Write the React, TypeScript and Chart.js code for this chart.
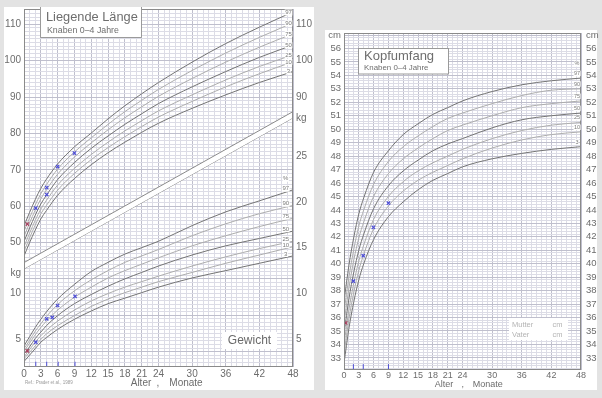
import React, { useEffect, useRef } from 'react';
import { Chart, registerables } from 'chart.js';

Chart.register(...registerables);

const FONT = "'Liberation Sans', Arial, Helvetica, sans-serif";

// ---------- shared ----------
const MONTHS = [0, 1, 2, 3, 4, 6, 9, 12, 15, 18, 21, 24, 30, 36, 42, 48];
const PERCENTILES = ['3', '10', '25', '50', '75', '90', '97'];
const DARK_PERCENTILES = ['3', '50', '97'];
const X_LABELS = [0, 3, 6, 9, 12, 15, 18, 21, 24, 30, 36, 42, 48];

// ---------- Liegende Länge (cm) ----------
const LEN_P3 = [46.3, 50.0, 53.4, 56.5, 58.8, 63.0, 67.6, 71.4, 74.7, 77.6, 80.3, 82.8, 86.9, 90.6, 94.0, 97.0];
const LEN_P10 = [47.6, 51.3, 54.8, 57.9, 60.2, 64.4, 69.0, 72.8, 76.1, 79.1, 81.9, 84.5, 88.8, 92.8, 96.4, 99.7];
const LEN_P25 = [48.9, 52.6, 56.1, 59.2, 61.6, 65.8, 70.4, 74.2, 77.6, 80.7, 83.5, 86.2, 90.6, 94.7, 98.4, 101.6];
const LEN_P50 = [50.3, 54.0, 57.5, 60.6, 63.0, 67.3, 72.0, 75.9, 79.3, 82.5, 85.4, 88.2, 92.8, 97.0, 100.9, 104.3];
const LEN_P75 = [51.7, 55.4, 58.9, 62.0, 64.5, 68.8, 73.5, 77.4, 81.0, 84.3, 87.3, 90.2, 95.1, 99.6, 103.7, 107.4];
const LEN_P90 = [53.1, 56.8, 60.3, 63.4, 65.9, 70.2, 74.9, 78.8, 82.5, 86.0, 89.1, 92.1, 97.3, 102.1, 106.4, 110.4];
const LEN_P97 = [54.6, 58.3, 61.8, 64.9, 67.4, 71.6, 76.3, 80.1, 84.0, 87.6, 90.9, 94.0, 99.6, 104.7, 109.2, 113.4];
const LEN_MEAS_M = [0.6, 2.1, 4.05, 4.05, 6.0, 9.0];
const LEN_MEAS_V = [55.1, 59.5, 65.1, 63.2, 70.9, 74.6];
const LEN_TICKS_LEFT = [50, 60, 70, 80, 90, 100, 110];
const LEN_TICKS_RIGHT = [90, 100, 110];
const LEN_MIN = 15.8;
const LEN_MAX = 114.2;

// ---------- Gewicht (kg) ----------
const WT_P3 = [2.6, 3.3, 4.0, 4.7, 5.2, 6.1, 7.2, 8.1, 8.9, 9.5, 10.1, 10.7, 11.7, 12.5, 13.3, 14.1];
const WT_P10 = [2.9, 3.6, 4.3, 5.0, 5.6, 6.5, 7.6, 8.6, 9.4, 10.1, 10.7, 11.3, 12.3, 13.3, 14.2, 15.1];
const WT_P25 = [3.1, 3.9, 4.7, 5.4, 6.0, 7.0, 8.2, 9.2, 10.0, 10.7, 11.3, 11.9, 13.0, 14.0, 14.9, 15.7];
const WT_P50 = [3.4, 4.2, 5.1, 5.8, 6.5, 7.6, 8.9, 9.9, 10.8, 11.6, 12.3, 13.0, 14.2, 15.2, 16.0, 16.8];
const WT_P75 = [3.7, 4.6, 5.5, 6.3, 7.0, 8.2, 9.6, 10.7, 11.7, 12.5, 13.2, 13.9, 15.2, 16.3, 17.3, 18.2];
const WT_P90 = [4.0, 4.9, 5.9, 6.7, 7.5, 8.8, 10.3, 11.5, 12.5, 13.4, 14.1, 14.8, 16.3, 17.6, 18.7, 19.6];
const WT_P97 = [4.3, 5.3, 6.3, 7.2, 8.0, 9.4, 11.0, 12.4, 13.4, 14.3, 15.0, 15.7, 17.4, 18.9, 20.1, 21.3];
const WT_MEAS_M = [0.6, 2.1, 4.05, 5.05, 6.0, 9.1];
const WT_MEAS_V = [3.75, 4.7, 7.25, 7.4, 8.7, 9.7];
const WT_TICKS_LEFT = [5, 10];
const WT_TICKS_RIGHT = [5, 10, 15, 20, 25];
const WT_KG_LEFT = 12.25;
const WT_KG_RIGHT = 29.1;
const WT_MIN = 2;
const WT_MAX = 41;
const LEFT_VISIT_M = [2.1, 4.05, 6.1, 9.1];

// diagonal separator band (length units at months 0 and 48)
const BAND_X = [0, 48];
const BAND_UPPER = [44.5, 86.0];
const BAND_LOWER = [42.8, 84.3];

// ---------- Kopfumfang (cm) ----------
const HC_P3 = [32.6, 35.2, 37.2, 38.8, 40.0, 41.8, 43.5, 44.6, 45.5, 46.2, 46.7, 47.2, 47.8, 48.2, 48.5, 48.7];
const HC_P10 = [33.3, 35.9, 37.9, 39.5, 40.7, 42.6, 44.3, 45.4, 46.2, 46.8, 47.3, 47.8, 48.6, 49.2, 49.6, 49.8];
const HC_P25 = [34.0, 36.6, 38.6, 40.2, 41.4, 43.3, 45.0, 46.1, 46.9, 47.5, 48.0, 48.5, 49.3, 49.9, 50.3, 50.5];
const HC_P50 = [34.8, 37.4, 39.4, 41.0, 42.2, 44.1, 45.8, 46.9, 47.7, 48.4, 48.9, 49.3, 50.1, 50.7, 51.0, 51.2];
const HC_P75 = [35.6, 38.2, 40.3, 41.9, 43.1, 45.0, 46.7, 47.8, 48.6, 49.3, 49.9, 50.3, 51.0, 51.6, 51.9, 52.1];
const HC_P90 = [36.4, 39.0, 41.1, 42.8, 44.0, 45.9, 47.6, 48.7, 49.5, 50.2, 50.8, 51.2, 51.9, 52.5, 52.9, 53.0];
const HC_P97 = [37.2, 39.9, 42.0, 43.7, 44.9, 46.8, 48.4, 49.6, 50.4, 51.1, 51.6, 52.1, 52.8, 53.3, 53.6, 53.8];
const HC_MEAS_M = [0.34, 1.9, 3.9, 5.95, 9.0];
const HC_MEAS_V = [35.6, 38.7, 40.6, 42.7, 44.5];
const HC_TICKS = [33, 34, 35, 36, 37, 38, 39, 40, 41, 42, 43, 44, 45, 46, 47, 48, 49, 50, 51, 52, 53, 54, 55, 56];
const HC_UNIT_AT = 57;
const HC_MIN = 32.1;
const HC_MAX = 57.15;
const RIGHT_VISIT_M = [1.9, 3.9, 9.0];

// ---------- styles ----------
const CURVE_DARK = '#747474';
const CURVE_LIGHT = '#adadad';
const GRID_MINOR = '#dcdce6';
const GRID_MAJOR = '#bfbfcd';
const TICK_COLOR = '#6c6c6c';
const MARK_BLUE = '#4d4dd6';
const MARK_RED = '#a8405e';
const CLEAR = 'rgba(0,0,0,0)';

function valueAt(arr: number[], m: number) {
  for (let i = 1; i < MONTHS.length; i++) {
    if (m <= MONTHS[i]) {
      const t = (m - MONTHS[i - 1]) / (MONTHS[i] - MONTHS[i - 1]);
      return arr[i - 1] + t * (arr[i] - arr[i - 1]);
    }
  }
  return arr[arr.length - 1];
}

function curveDataset(arr: number[], axis: string, i: number) {
  const dark = DARK_PERCENTILES.includes(PERCENTILES[i]);
  return {
    data: MONTHS.map((m, j) => ({ x: m, y: arr[j] })),
    yAxisID: axis,
    borderColor: dark ? CURVE_DARK : CURVE_LIGHT,
    borderWidth: 1,
    pointRadius: 0,
    cubicInterpolationMode: 'monotone',
    fill: false,
  };
}

function markerDataset(ms: number[], vs: number[], axis: string) {
  const colors = ms.map((_, i) => (i === 0 ? MARK_RED : MARK_BLUE));
  return {
    data: ms.map((m, i) => ({ x: m, y: vs[i] })),
    yAxisID: axis,
    showLine: false,
    pointStyle: 'crossRot',
    pointRadius: 2.4,
    pointBorderWidth: 1.2,
    pointBorderColor: colors,
    pointBackgroundColor: colors,
    borderColor: MARK_BLUE,
    fill: false,
  };
}

function visitDataset(ms: number[], axis: string, v: number) {
  return {
    data: ms.map((m) => ({ x: m, y: v })),
    yAxisID: axis,
    showLine: false,
    pointStyle: 'line',
    rotation: 90,
    pointRadius: 2.5,
    pointBorderWidth: 1,
    pointBorderColor: MARK_BLUE,
    borderColor: MARK_BLUE,
    fill: false,
  };
}

function pctLabel(ctx: CanvasRenderingContext2D, text: string, x: number, y: number, size: number) {
  ctx.font = `${size}px ${FONT}`;
  const w = ctx.measureText(text).width;
  ctx.fillStyle = '#ffffff';
  ctx.fillRect(x - w / 2 - 0.5, y - size / 2, w + 1, size);
  ctx.fillStyle = '#7a7a7a';
  ctx.textAlign = 'center';
  ctx.textBaseline = 'middle';
  ctx.fillText(text, x, y);
}

function frame(ctx: CanvasRenderingContext2D, a: any) {
  ctx.strokeStyle = '#8a8a8a';
  ctx.lineWidth = 1;
  ctx.strokeRect(Math.round(a.left) + 0.5, Math.round(a.top) + 0.5, Math.round(a.right - a.left) - 1, Math.round(a.bottom - a.top) - 1);
}

function monthGridColor(ctx: any) {
  const v = ctx.tick ? ctx.tick.value : 0;
  return X_LABELS.includes(v) ? GRID_MAJOR : GRID_MINOR;
}

function monthTicks(scale: any) {
  const t: any[] = [];
  for (let m = 0; m <= 48; m++) t.push({ value: m });
  scale.ticks = t;
}

// ---------- left chart ----------
const lenFromWt = (w: number) => LEN_MIN + ((w - WT_MIN) / (WT_MAX - WT_MIN)) * (LEN_MAX - LEN_MIN);

function leftConfig(): any {
  const lenSeries = [LEN_P3, LEN_P10, LEN_P25, LEN_P50, LEN_P75, LEN_P90, LEN_P97];
  const wtSeries = [WT_P3, WT_P10, WT_P25, WT_P50, WT_P75, WT_P90, WT_P97];
  const datasets: any[] = [
    markerDataset(LEN_MEAS_M, LEN_MEAS_V, 'y'),
    markerDataset(WT_MEAS_M, WT_MEAS_V, 'yW'),
    visitDataset(LEFT_VISIT_M, 'yW', 2.3),
    ...lenSeries.map((a, i) => curveDataset(a, 'y', i)),
    ...wtSeries.map((a, i) => curveDataset(a, 'yW', i)),
    {
      data: BAND_X.map((x, i) => ({ x, y: BAND_UPPER[i] })),
      yAxisID: 'y', borderColor: '#8a8a8a', borderWidth: 1, pointRadius: 0,
      fill: '+1', backgroundColor: '#ffffff',
    },
    {
      data: BAND_X.map((x, i) => ({ x, y: BAND_LOWER[i] })),
      yAxisID: 'y', borderColor: '#8a8a8a', borderWidth: 1, pointRadius: 0, fill: false,
    },
  ];

  const leftExtra = [...WT_TICKS_LEFT.map(lenFromWt), lenFromWt(WT_KG_LEFT)];
  const rightVals = [...LEN_TICKS_RIGHT, ...WT_TICKS_RIGHT.map(lenFromWt), lenFromWt(WT_KG_RIGHT)];

  const decor = {
    id: 'leftDecor',
    afterDatasetsDraw(chart: any) {
      const { ctx, chartArea: a, scales } = chart;
      ctx.save();
      frame(ctx, a);
      const xL = scales.x.getPixelForValue(47.2);
      lenSeries.forEach((arr, i) => {
        const y = scales.y.getPixelForValue(valueAt(arr, 47.2)) - 1.5;
        pctLabel(ctx, PERCENTILES[i], xL, y, 6);
      });
      const xW = scales.x.getPixelForValue(46.7);
      let topY = 0;
      wtSeries.forEach((arr, i) => {
        const y = scales.yW.getPixelForValue(valueAt(arr, 46.7)) - 3.5;
        pctLabel(ctx, PERCENTILES[i], xW, y, 6);
        topY = y;
      });
      pctLabel(ctx, '%', xW, topY - 10, 6);

      // title box
      ctx.fillStyle = '#ffffff';
      ctx.fillRect(41, 7, 100, 30);
      ctx.strokeStyle = '#9a9a9a';
      ctx.lineWidth = 1;
      ctx.beginPath();
      ctx.moveTo(40.5, 7); ctx.lineTo(40.5, 37.5); ctx.lineTo(141.5, 37.5); ctx.lineTo(141.5, 7);
      ctx.stroke();
      ctx.fillStyle = '#6e6e6e';
      ctx.textAlign = 'left';
      ctx.textBaseline = 'alphabetic';
      ctx.font = `12.8px ${FONT}`;
      ctx.fillText('Liegende Länge', 46, 20.5);
      ctx.font = `8.8px ${FONT}`;
      ctx.fillText('Knaben 0–4 Jahre', 47, 32.5);

      // Gewicht box
      ctx.fillStyle = '#ffffff';
      ctx.fillRect(222, 332, 55, 17);
      ctx.fillStyle = '#6a6a6a';
      ctx.textAlign = 'center';
      ctx.font = `12px ${FONT}`;
      ctx.fillText('Gewicht', 249.5, 344);
      ctx.restore();
    },
    afterDraw(chart: any) {
      const { ctx } = chart;
      ctx.save();
      ctx.fillStyle = TICK_COLOR;
      ctx.textBaseline = 'middle';
      ctx.textAlign = 'center';
      ctx.font = `10px ${FONT}`;
      ctx.fillText('Alter', 141, 383.5);
      ctx.fillText(',', 158, 383.5);
      ctx.fillText('Monate', 186, 383.5);
      ctx.textAlign = 'left';
      ctx.fillStyle = '#9a9a9a';
      ctx.font = `4.5px ${FONT}`;
      ctx.fillText('Ref.: Prader et al., 1989', 25, 383);
      ctx.restore();
    },
  };

  return {
    type: 'line',
    data: { datasets },
    plugins: [decor],
    options: {
      animation: false,
      responsive: false,
      maintainAspectRatio: false,
      layout: { padding: { top: 7, left: 0, right: 0, bottom: 0 } },
      plugins: { legend: { display: false }, tooltip: { enabled: false } },
      scales: {
        x: {
          type: 'linear', min: 0, max: 48, position: 'bottom',
          afterBuildTicks: monthTicks,
          afterFit: (s: any) => { s.height = 31; },
          ticks: {
            autoSkip: false, maxRotation: 0, padding: 1, color: TICK_COLOR,
            font: { family: FONT, size: 10 },
            callback: (v: number) => (X_LABELS.includes(v) ? String(v) : ''),
          },
          grid: { drawTicks: false, color: monthGridColor, lineWidth: 1 },
          border: { display: false },
        },
        y: {
          type: 'linear', position: 'left', min: LEN_MIN, max: LEN_MAX,
          afterBuildTicks: (s: any) => {
            const t: any[] = [];
            for (let v = Math.ceil(LEN_MIN); v <= Math.floor(LEN_MAX); v++) t.push({ value: v });
            leftExtra.forEach((v) => t.push({ value: v }));
            t.sort((p, q) => p.value - q.value);
            s.ticks = t;
          },
          afterFit: (s: any) => { s.width = 24; },
          ticks: {
            autoSkip: false, padding: 3, color: TICK_COLOR,
            font: { family: FONT, size: 10 },
            callback: (v: number) => {
              if (LEN_TICKS_LEFT.includes(v)) return String(v);
              const wi = WT_TICKS_LEFT.findIndex((w) => Math.abs(lenFromWt(w) - v) < 1e-9);
              if (wi >= 0) return String(WT_TICKS_LEFT[wi]);
              if (Math.abs(lenFromWt(WT_KG_LEFT) - v) < 1e-9) return 'kg';
              return '';
            },
          },
          grid: {
            drawTicks: false, lineWidth: 1,
            color: (ctx: any) => {
              const v = ctx.tick ? ctx.tick.value : 0;
              if (!Number.isInteger(v)) return CLEAR;
              return v % 10 === 0 ? GRID_MAJOR : GRID_MINOR;
            },
          },
          border: { display: false },
        },
        y2: {
          type: 'linear', position: 'right', min: LEN_MIN, max: LEN_MAX,
          afterBuildTicks: (s: any) => {
            s.ticks = rightVals.slice().sort((p, q) => p - q).map((v) => ({ value: v }));
          },
          afterFit: (s: any) => { s.width = 25; },
          ticks: {
            autoSkip: false, padding: 3, color: TICK_COLOR,
            font: { family: FONT, size: 10 },
            callback: (v: number) => {
              if (LEN_TICKS_RIGHT.includes(v)) return String(v);
              const wi = WT_TICKS_RIGHT.findIndex((w) => Math.abs(lenFromWt(w) - v) < 1e-9);
              if (wi >= 0) return String(WT_TICKS_RIGHT[wi]);
              if (Math.abs(lenFromWt(WT_KG_RIGHT) - v) < 1e-9) return 'kg';
              return '';
            },
          },
          grid: { display: false, drawTicks: false },
          border: { display: false },
        },
        yW: { type: 'linear', display: false, min: WT_MIN, max: WT_MAX },
      },
    },
  };
}

// ---------- right chart ----------
function rightConfig(): any {
  const hcSeries = [HC_P3, HC_P10, HC_P25, HC_P50, HC_P75, HC_P90, HC_P97];
  const datasets: any[] = [
    markerDataset(HC_MEAS_M, HC_MEAS_V, 'y'),
    visitDataset(RIGHT_VISIT_M, 'y', 32.35),
    ...hcSeries.map((a, i) => curveDataset(a, 'y', i)),
  ];

  const hcTicks = (s: any) => {
    const t: any[] = [];
    for (let k = Math.ceil(HC_MIN * 5); k <= Math.floor(HC_MAX * 5); k++) t.push({ value: k / 5 });
    s.ticks = t;
  };
  const hcLabel = (v: number) => {
    const r = Math.round(v);
    if (Math.abs(v - r) < 1e-9) {
      if (HC_TICKS.includes(r)) return String(r);
      if (r === HC_UNIT_AT) return 'cm';
    }
    return '';
  };

  const decor = {
    id: 'rightDecor',
    afterDatasetsDraw(chart: any) {
      const { ctx, chartArea: a, scales } = chart;
      ctx.save();
      frame(ctx, a);
      const x = scales.x.getPixelForValue(47.2);
      let topY = 0;
      hcSeries.forEach((arr, i) => {
        const y = scales.y.getPixelForValue(valueAt(arr, 47.2)) - 5;
        pctLabel(ctx, PERCENTILES[i], x, y, 5.5);
        topY = y;
      });
      pctLabel(ctx, '%', x, topY - 9.5, 5.5);

      // title box
      ctx.fillStyle = '#ffffff';
      ctx.fillRect(38.5, 48.5, 90, 25.5);
      ctx.strokeStyle = '#9a9a9a';
      ctx.lineWidth = 1;
      ctx.strokeRect(38.5, 48.5, 90, 25.5);
      ctx.fillStyle = '#6e6e6e';
      ctx.textAlign = 'left';
      ctx.textBaseline = 'alphabetic';
      ctx.font = `13px ${FONT}`;
      ctx.fillText('Kopfumfang', 44, 59.5);
      ctx.font = `7.9px ${FONT}`;
      ctx.fillText('Knaben 0–4 Jahre', 44, 70.3);

      // parents box
      ctx.fillStyle = '#ffffff';
      ctx.fillRect(189, 318, 59, 22);
      ctx.fillStyle = '#b4b4b4';
      ctx.font = `7.5px ${FONT}`;
      ctx.textBaseline = 'middle';
      ctx.fillText('Mutter', 192, 324.8);
      ctx.fillText('cm', 232.5, 324.8);
      ctx.fillText('Vater', 192, 334.8);
      ctx.fillText('cm', 232.5, 334.8);
      ctx.restore();
    },
    afterDraw(chart: any) {
      const { ctx } = chart;
      ctx.save();
      ctx.fillStyle = TICK_COLOR;
      ctx.textBaseline = 'middle';
      ctx.textAlign = 'center';
      ctx.font = `9px ${FONT}`;
      ctx.fillText('Alter', 124, 384.5);
      ctx.fillText(',', 142.7, 384.5);
      ctx.fillText('Monate', 167.7, 384.5);
      ctx.restore();
    },
  };

  return {
    type: 'line',
    data: { datasets },
    plugins: [decor],
    options: {
      animation: false,
      responsive: false,
      maintainAspectRatio: false,
      layout: { padding: { top: 33, left: 0, right: 0, bottom: 0 } },
      plugins: { legend: { display: false }, tooltip: { enabled: false } },
      scales: {
        x: {
          type: 'linear', min: 0, max: 48, position: 'bottom',
          afterBuildTicks: monthTicks,
          afterFit: (s: any) => { s.height = 28; },
          ticks: {
            autoSkip: false, maxRotation: 0, padding: 0, color: TICK_COLOR,
            font: { family: FONT, size: 9 },
            callback: (v: number) => (X_LABELS.includes(v) ? String(v) : ''),
          },
          grid: { drawTicks: false, color: monthGridColor, lineWidth: 1 },
          border: { display: false },
        },
        y: {
          type: 'linear', position: 'left', min: HC_MIN, max: HC_MAX,
          afterBuildTicks: hcTicks,
          afterFit: (s: any) => { s.width = 24; },
          ticks: {
            autoSkip: false, padding: 3, color: TICK_COLOR,
            font: { family: FONT, size: 9.5 },
            callback: hcLabel,
          },
          grid: {
            drawTicks: false, lineWidth: 1,
            color: (ctx: any) => {
              const v = ctx.tick ? ctx.tick.value : 0;
              return Math.abs(v - Math.round(v)) < 1e-9 ? GRID_MAJOR : GRID_MINOR;
            },
          },
          border: { display: false },
        },
        y2: {
          type: 'linear', position: 'right', min: HC_MIN, max: HC_MAX,
          afterBuildTicks: (s: any) => {
            s.ticks = [...HC_TICKS, HC_UNIT_AT].map((v) => ({ value: v }));
          },
          afterFit: (s: any) => { s.width = 21; },
          ticks: {
            autoSkip: false, padding: 5, color: TICK_COLOR,
            font: { family: FONT, size: 9.5 },
            callback: hcLabel,
          },
          grid: { display: false, drawTicks: false },
          border: { display: false },
        },
      },
    },
  };
}

function ChartCanvas({ config, left, width }: { config: () => any; left: number; width: number }) {
  const ref = useRef<HTMLCanvasElement>(null);
  useEffect(() => {
    const chart = new Chart(ref.current as HTMLCanvasElement, config());
    return () => chart.destroy();
  }, []);
  return (
    <canvas
      ref={ref}
      width={width}
      height={398}
      style={{ position: 'absolute', left, top: 0, width, height: 398 }}
    />
  );
}

export default function App() {
  return (
    <div style={{ position: 'fixed', left: 0, top: 0, width: 602, height: 398, background: '#e3e3e3', overflow: 'hidden' }}>
      <div style={{ position: 'absolute', left: 4, top: 7, width: 310, height: 383, background: '#ffffff' }} />
      <div style={{ position: 'absolute', left: 325, top: 30, width: 272, height: 360, background: '#ffffff' }} />
      <ChartCanvas config={leftConfig} left={0} width={318} />
      <ChartCanvas config={rightConfig} left={320} width={282} />
    </div>
  );
}
